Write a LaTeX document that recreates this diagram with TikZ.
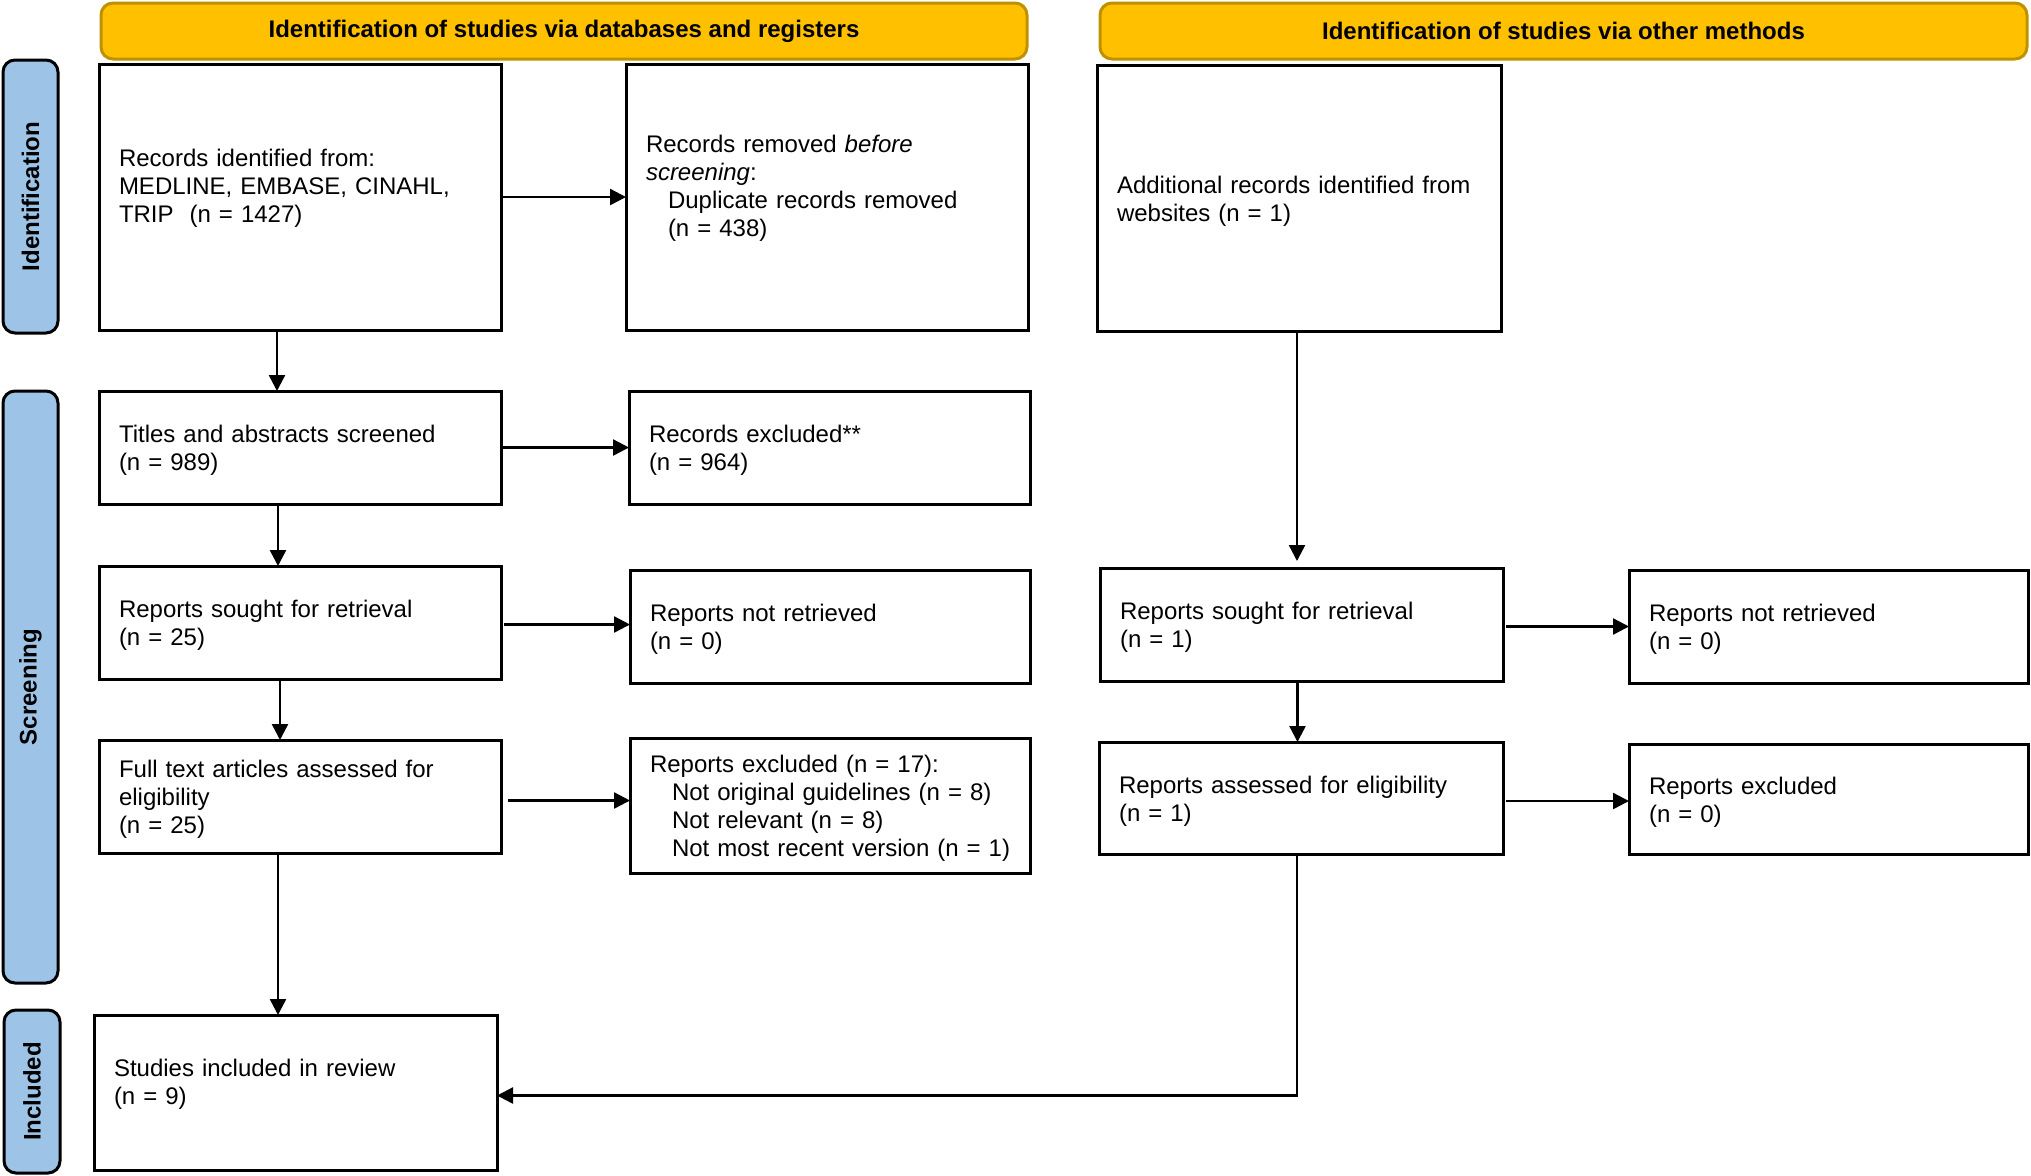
\documentclass[tikz,border=0pt]{standalone}
\usepackage{fontspec}
\setmainfont{Liberation Sans}
\usetikzlibrary{arrows.meta}
\definecolor{hdrfill}{HTML}{FFC000}
\definecolor{hdrline}{HTML}{BF9000}
\definecolor{tabfill}{HTML}{9DC3E6}
\begin{document}
\begin{tikzpicture}[x=0.5pt,y=-0.5pt,
  box/.style={draw, line width=1.5pt, anchor=north west, align=left, inner xsep=10pt, inner ysep=0pt, outer sep=0pt, font=\fontsize{12pt}{14pt}\selectfont, execute at end node={\endgraf\vspace*{-3pt}}},
  hdr/.style={draw=hdrline, fill=hdrfill, line width=1.5pt, rounded corners=6pt, anchor=north west, inner sep=0pt, outer sep=0pt, font=\bfseries\fontsize{12pt}{14pt}\selectfont},
  tab/.style={draw=black, fill=tabfill, line width=1.5pt, rounded corners=6pt, inner sep=0pt, outer sep=0pt, rotate=90, font=\bfseries\fontsize{12pt}{14pt}\selectfont},
  arr/.style={line width=1.2pt, -{Triangle[length=8pt,width=8pt]}}
]
\useasboundingbox (0,0) rectangle (2031,1175);

% headers
\node[hdr, minimum width=463pt, minimum height=28pt] (h1) at (101,3) {Identification of studies via databases and registers};
\node[hdr, minimum width=463.5pt, minimum height=28pt] (h2) at (1100,3) {Identification of studies via other methods};

% side tabs
\node[tab, minimum width=136.5pt, minimum height=27.5pt] (tab1) at (30.5,196.5) {Identification};
\node[tab, minimum width=296pt, minimum height=27.5pt] (tab2) at (30.5,687) {Screening};
\node[tab, minimum width=81.5pt, minimum height=28pt] (tab3) at (32,1091.5) {Included};

% left column
\node[box, text width=181pt, minimum height=133pt] (b1) at (99,64)
  {Records identified from:\\ MEDLINE, EMBASE, CINAHL,\\ TRIP\ \ (n = 1427)\\ \mbox{}};
\node[box, text width=181pt, minimum height=133pt] (b2) at (626,64)
  {Records removed \textit{before}\\ \textit{screening}:\\ \hspace*{11pt}Duplicate records removed\\ \hspace*{11pt}(n = 438)\\ \mbox{}};
\node[box, text width=181pt, minimum height=56.5pt] (t1) at (99,391)
  {Titles and abstracts screened\\ (n = 989)};
\node[box, text width=180.5pt, minimum height=56.5pt] (t2) at (629,391)
  {Records excluded**\\ (n = 964)};
\node[box, text width=181pt, minimum height=56.5pt] (s1) at (99,566)
  {Reports sought for retrieval\\ (n = 25)};
\node[box, text width=180pt, minimum height=56.5pt] (s2) at (630,570)
  {Reports not retrieved\\ (n = 0)};
\node[box, text width=181pt, minimum height=56.5pt] (f1) at (99,740)
  {Full text articles assessed for\\ eligibility\\ (n = 25)};
\node[box, text width=180pt, minimum height=67.5pt] (f2) at (630,738)
  {\mbox{Reports excluded (n = 17):}\\ \mbox{\hspace*{11pt}Not original guidelines (n = 8)}\\ \mbox{\hspace*{11pt}Not relevant (n = 8)}\\ \mbox{\hspace*{11pt}Not most recent version (n = 1)}};
\node[box, text width=181.5pt, minimum height=77.5pt] (inc) at (94,1015)
  {Studies included in review\\ (n = 9)\\ \mbox{}};

% right column
\node[box, text width=182pt, minimum height=133pt] (b3) at (1097,65)
  {Additional records identified from\\ websites (n = 1)};
\node[box, text width=181.5pt, minimum height=56.5pt] (r1) at (1100,568)
  {Reports sought for retrieval\\ (n = 1)};
\node[box, text width=179.5pt, minimum height=56.5pt] (r2) at (1629,570)
  {Reports not retrieved\\ (n = 0)};
\node[box, text width=182pt, minimum height=56pt] (a1) at (1099,742)
  {Reports assessed for eligibility\\ (n = 1)};
\node[box, text width=179.5pt, minimum height=55pt] (a2) at (1629,744)
  {Reports excluded\\ (n = 0)};

% vertical arrows left
\draw[arr] ([xshift=-11.5pt]b1.south) -- ([xshift=-11.5pt]b1.south |- t1.north);
\draw[arr] ([xshift=-11pt]t1.south) -- ([xshift=-11pt]t1.south |- s1.north);
\draw[arr] ([xshift=-10pt]s1.south) -- ([xshift=-10pt]s1.south |- f1.north);
\draw[arr] ([xshift=-11pt]f1.south) -- ([xshift=-11pt]f1.south |- inc.north);

% horizontal arrows left
\draw[arr] (b1.east) -- (b1.east -| b2.west);
\draw[arr] (t1.east) -- (t1.east -| t2.west);
\draw[arr, shorten <=1.5pt] ([yshift=-1pt]s1.east) -- ([yshift=-1pt]s1.east -| s2.west);
\draw[arr, shorten <=3.5pt] ([yshift=-2pt]f1.east) -- ([yshift=-2pt]f1.east -| f2.west);

% right arrows
\draw[arr, shorten >=3.5pt] ([xshift=-1pt]b3.south) -- ([xshift=-1pt]b3.south |- r1.north);
\draw[arr] ([xshift=-2pt]r1.south) -- ([xshift=-2pt]r1.south |- a1.north);
\draw[arr, shorten <=1.5pt] ([yshift=-1pt]r1.east) -- ([yshift=-1pt]r1.east -| r2.west);
\draw[arr, shorten <=1.5pt] ([yshift=-1.5pt]a1.east) -- ([yshift=-1.5pt]a1.east -| a2.west);
\draw[arr] ([xshift=-2pt]a1.south) |- ([yshift=-1.5pt]inc.east);
\end{tikzpicture}
\end{document}
